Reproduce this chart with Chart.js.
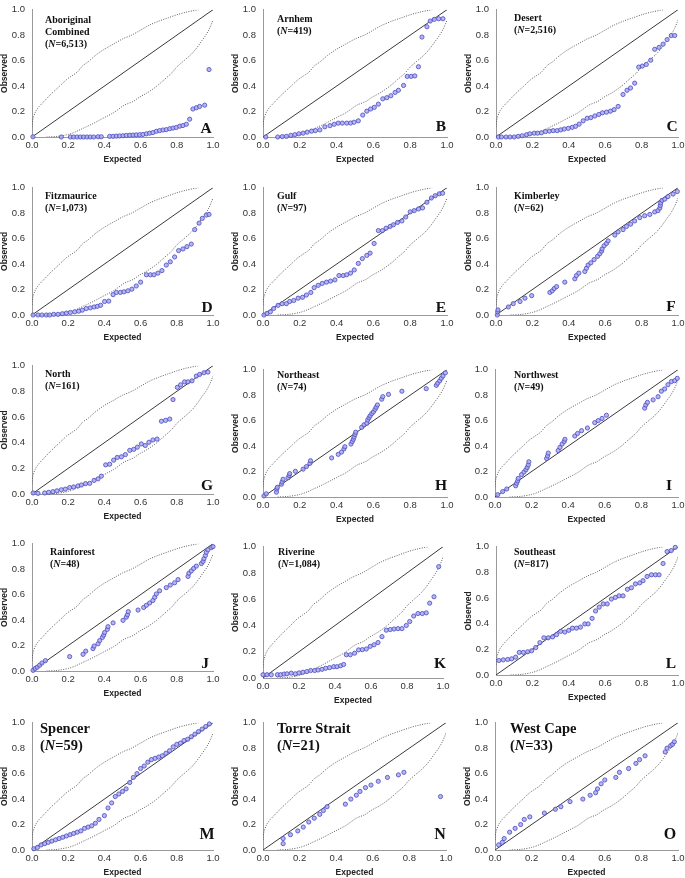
<!DOCTYPE html>
<html><head><meta charset="utf-8">
<script src="https://cdn.jsdelivr.net/npm/chart.js@4/dist/chart.umd.min.js"></script>
<style>
html,body{margin:0;padding:0;background:#fff;width:685px;height:878px;overflow:hidden;position:relative}
canvas{position:absolute}
</style></head><body>
<script>
// ---------- labels ----------
const letters = ["A","B","C","D","E","F","G","H","I","J","K","L","M","N","O"];
const regionNames = [["Aboriginal","Combined"],["Arnhem"],["Desert"],["Fitzmaurice"],["Gulf"],["Kimberley"],["North"],["Northeast"],["Northwest"],["Rainforest"],["Riverine"],["Southeast"],["Spencer"],["Torre Strait"],["West Cape"]];
const sampleSizes = ["6,513","419","2,516","1,073","97","62","161","74","49","48","1,084","817","59","21","33"];
const tickValues = [0,0.2,0.4,0.6,0.8,1.0];

// ---------- confidence envelope (upper; lower is its mirror) ----------
const envExpected = [0,0.005,0.02,0.04,0.06,0.08,0.10,0.13,0.16,0.19,0.22,0.25,0.28,0.31,0.35,0.40,0.45,0.50,0.55,0.60,0.65,0.70,0.75,0.80,0.85,0.90,0.92];
const envObserved = [0.08,0.14,0.20,0.24,0.27,0.30,0.33,0.37,0.41,0.45,0.48,0.51,0.56,0.59,0.64,0.69,0.73,0.77,0.80,0.84,0.88,0.91,0.935,0.96,0.98,0.995,1.0];

// ---------- observed vs expected points ----------
const ptsA = [[0.005,0.002],[0.162,0],[0.212,0],[0.230,0],[0.249,0],[0.267,0],[0.285,0],[0.304,0],[0.322,0],[0.341,0],[0.365,0.002],[0.383,0.002],[0.429,0.005],[0.448,0.005],[0.466,0.007],[0.484,0.008],[0.503,0.01],[0.521,0.012],[0.540,0.014],[0.558,0.015],[0.576,0.017],[0.595,0.018],[0.613,0.02],[0.632,0.025],[0.650,0.03],[0.668,0.035],[0.687,0.045],[0.705,0.05],[0.724,0.055],[0.742,0.058],[0.761,0.065],[0.779,0.07],[0.797,0.075],[0.816,0.085],[0.834,0.09],[0.853,0.1],[0.871,0.14],[0.889,0.22],[0.908,0.23],[0.926,0.24],[0.954,0.25],[0.978,0.53]];
const ptsB = [[0.015,0],[0.08,0],[0.105,0.003],[0.127,0.005],[0.151,0.013],[0.173,0.018],[0.195,0.025],[0.218,0.03],[0.24,0.038],[0.264,0.046],[0.285,0.05],[0.309,0.056],[0.336,0.08],[0.364,0.089],[0.387,0.10],[0.409,0.109],[0.431,0.109],[0.455,0.109],[0.476,0.11],[0.495,0.116],[0.518,0.127],[0.542,0.172],[0.564,0.203],[0.585,0.22],[0.605,0.233],[0.627,0.258],[0.651,0.30],[0.673,0.309],[0.695,0.324],[0.718,0.35],[0.736,0.367],[0.764,0.405],[0.784,0.476],[0.805,0.476],[0.825,0.48],[0.845,0.552],[0.864,0.785],[0.891,0.866],[0.909,0.911],[0.931,0.924],[0.955,0.929],[0.978,0.929]];
const ptsC = [[0.013,0],[0.03,0],[0.055,0],[0.077,0],[0.1,0],[0.122,0.005],[0.144,0.01],[0.168,0.018],[0.186,0.025],[0.21,0.03],[0.229,0.03],[0.25,0.033],[0.272,0.043],[0.293,0.046],[0.314,0.05],[0.336,0.05],[0.356,0.056],[0.375,0.063],[0.397,0.068],[0.419,0.076],[0.437,0.084],[0.457,0.101],[0.479,0.127],[0.501,0.147],[0.521,0.152],[0.543,0.165],[0.565,0.177],[0.585,0.19],[0.607,0.195],[0.629,0.203],[0.649,0.215],[0.671,0.24],[0.698,0.334],[0.72,0.367],[0.739,0.385],[0.762,0.423],[0.784,0.549],[0.804,0.557],[0.826,0.57],[0.85,0.603],[0.872,0.689],[0.896,0.704],[0.918,0.729],[0.94,0.765],[0.963,0.797],[0.982,0.797]];
const ptsD = [[0.006,0],[0.033,0],[0.055,0],[0.079,0],[0.098,0],[0.12,0.005],[0.144,0.005],[0.168,0.01],[0.19,0.015],[0.212,0.02],[0.236,0.025],[0.258,0.03],[0.278,0.038],[0.3,0.051],[0.322,0.056],[0.343,0.063],[0.361,0.068],[0.379,0.076],[0.401,0.106],[0.424,0.109],[0.448,0.16],[0.466,0.177],[0.488,0.177],[0.508,0.182],[0.53,0.19],[0.552,0.203],[0.576,0.228],[0.6,0.258],[0.632,0.316],[0.654,0.316],[0.674,0.316],[0.696,0.329],[0.718,0.349],[0.742,0.392],[0.764,0.418],[0.788,0.456],[0.81,0.506],[0.834,0.519],[0.856,0.537],[0.88,0.557],[0.899,0.671],[0.923,0.722],[0.941,0.759],[0.963,0.785],[0.978,0.79]];
const ptsE = [[0.005,0],[0.022,0.013],[0.04,0.025],[0.058,0.051],[0.082,0.076],[0.104,0.089],[0.127,0.089],[0.145,0.106],[0.167,0.114],[0.191,0.132],[0.215,0.139],[0.236,0.157],[0.26,0.177],[0.278,0.215],[0.3,0.233],[0.322,0.248],[0.345,0.258],[0.367,0.266],[0.391,0.276],[0.413,0.31],[0.436,0.31],[0.455,0.316],[0.476,0.329],[0.496,0.354],[0.518,0.405],[0.54,0.443],[0.564,0.468],[0.582,0.486],[0.604,0.562],[0.627,0.663],[0.649,0.663],[0.669,0.682],[0.691,0.696],[0.709,0.709],[0.731,0.727],[0.755,0.739],[0.776,0.77],[0.8,0.81],[0.822,0.82],[0.845,0.833],[0.867,0.841],[0.891,0.886],[0.915,0.919],[0.936,0.937],[0.958,0.952],[0.976,0.957]];
const ptsF = [[0.007,0.0],[0.009,0.025],[0.011,0.04],[0.068,0.063],[0.095,0.089],[0.132,0.106],[0.159,0.132],[0.196,0.152],[0.296,0.177],[0.309,0.19],[0.32,0.208],[0.333,0.223],[0.378,0.258],[0.433,0.284],[0.442,0.31],[0.455,0.329],[0.488,0.342],[0.497,0.367],[0.506,0.392],[0.521,0.41],[0.539,0.435],[0.558,0.461],[0.57,0.481],[0.58,0.501],[0.583,0.519],[0.594,0.544],[0.607,0.562],[0.616,0.582],[0.653,0.628],[0.671,0.653],[0.698,0.671],[0.717,0.696],[0.74,0.714],[0.762,0.739],[0.79,0.765],[0.817,0.78],[0.845,0.79],[0.872,0.81],[0.89,0.82],[0.9,0.84],[0.903,0.86],[0.905,0.88],[0.912,0.9],[0.927,0.91],[0.945,0.93],[0.973,0.95],[0.996,0.97]];
const ptsG = [[0.006,0.008],[0.033,0.005],[0.07,0.008],[0.092,0.013],[0.116,0.018],[0.138,0.025],[0.162,0.033],[0.184,0.038],[0.208,0.05],[0.23,0.055],[0.254,0.063],[0.273,0.07],[0.296,0.081],[0.319,0.083],[0.343,0.106],[0.365,0.118],[0.383,0.139],[0.407,0.227],[0.429,0.232],[0.451,0.264],[0.471,0.285],[0.494,0.29],[0.516,0.307],[0.54,0.34],[0.562,0.348],[0.582,0.365],[0.604,0.39],[0.626,0.378],[0.646,0.403],[0.668,0.421],[0.691,0.428],[0.715,0.567],[0.738,0.574],[0.761,0.584],[0.779,0.736],[0.803,0.831],[0.821,0.851],[0.843,0.874],[0.862,0.874],[0.884,0.882],[0.908,0.919],[0.926,0.932],[0.95,0.945],[0.972,0.95]];
const ptsH = [[0.005,0.008],[0.018,0.025],[0.073,0.038],[0.075,0.063],[0.078,0.076],[0.1,0.1],[0.104,0.118],[0.109,0.139],[0.136,0.151],[0.142,0.169],[0.145,0.184],[0.176,0.202],[0.218,0.219],[0.236,0.239],[0.255,0.264],[0.258,0.285],[0.373,0.307],[0.409,0.335],[0.427,0.353],[0.44,0.378],[0.445,0.395],[0.478,0.416],[0.485,0.436],[0.491,0.453],[0.495,0.471],[0.5,0.491],[0.504,0.509],[0.536,0.547],[0.549,0.567],[0.564,0.579],[0.569,0.605],[0.576,0.622],[0.582,0.637],[0.591,0.655],[0.6,0.668],[0.609,0.688],[0.615,0.705],[0.622,0.723],[0.645,0.768],[0.651,0.788],[0.682,0.806],[0.755,0.831],[0.887,0.851],[0.942,0.877],[0.949,0.894],[0.96,0.912],[0.969,0.932],[0.978,0.95],[0.991,0.975]];
const ptsI = [[0.015,0.018],[0.042,0.043],[0.064,0.063],[0.113,0.088],[0.118,0.108],[0.124,0.126],[0.127,0.146],[0.145,0.176],[0.158,0.196],[0.169,0.214],[0.176,0.232],[0.182,0.252],[0.185,0.277],[0.282,0.302],[0.287,0.322],[0.291,0.345],[0.345,0.365],[0.355,0.39],[0.367,0.416],[0.378,0.436],[0.382,0.453],[0.436,0.479],[0.451,0.499],[0.473,0.521],[0.505,0.542],[0.545,0.584],[0.564,0.6],[0.585,0.617],[0.609,0.642],[0.818,0.698],[0.824,0.723],[0.833,0.743],[0.864,0.763],[0.891,0.788],[0.909,0.831],[0.927,0.849],[0.945,0.882],[0.964,0.907],[0.982,0.914],[0.996,0.932]];
const ptsJ = [[0.006,0.005],[0.018,0.02],[0.029,0.03],[0.042,0.045],[0.055,0.063],[0.074,0.081],[0.208,0.113],[0.282,0.131],[0.297,0.156],[0.337,0.176],[0.343,0.196],[0.365,0.214],[0.374,0.239],[0.389,0.264],[0.396,0.282],[0.401,0.302],[0.416,0.327],[0.42,0.348],[0.448,0.378],[0.503,0.398],[0.521,0.423],[0.527,0.441],[0.532,0.466],[0.586,0.479],[0.617,0.499],[0.632,0.516],[0.65,0.534],[0.668,0.554],[0.678,0.579],[0.687,0.605],[0.705,0.63],[0.742,0.655],[0.764,0.675],[0.788,0.693],[0.807,0.718],[0.862,0.743],[0.867,0.768],[0.88,0.786],[0.893,0.806],[0.908,0.824],[0.936,0.844],[0.945,0.861],[0.95,0.882],[0.958,0.907],[0.963,0.932],[0.972,0.952],[0.991,0.97],[1.0,0.977]];
const ptsK = [[0.0,0.025],[0.022,0.025],[0.046,0.025],[0.08,0.025],[0.098,0.025],[0.117,0.03],[0.133,0.032],[0.157,0.037],[0.18,0.032],[0.2,0.039],[0.222,0.044],[0.244,0.049],[0.265,0.057],[0.287,0.057],[0.306,0.061],[0.328,0.066],[0.348,0.074],[0.37,0.079],[0.393,0.086],[0.411,0.086],[0.431,0.093],[0.448,0.103],[0.463,0.177],[0.485,0.177],[0.509,0.189],[0.531,0.214],[0.552,0.216],[0.574,0.221],[0.596,0.241],[0.617,0.253],[0.639,0.27],[0.661,0.315],[0.685,0.364],[0.707,0.369],[0.728,0.373],[0.75,0.376],[0.772,0.376],[0.796,0.4],[0.815,0.43],[0.837,0.472],[0.861,0.491],[0.885,0.491],[0.907,0.496],[0.926,0.57],[0.95,0.619],[0.976,0.848]];
const ptsL = [[0.016,0.113],[0.04,0.118],[0.064,0.121],[0.086,0.126],[0.108,0.139],[0.128,0.176],[0.15,0.176],[0.174,0.181],[0.196,0.189],[0.218,0.214],[0.241,0.252],[0.263,0.29],[0.287,0.29],[0.311,0.297],[0.333,0.315],[0.355,0.34],[0.378,0.335],[0.4,0.348],[0.42,0.365],[0.442,0.365],[0.464,0.373],[0.488,0.398],[0.506,0.398],[0.528,0.441],[0.547,0.499],[0.567,0.529],[0.589,0.554],[0.611,0.554],[0.634,0.592],[0.656,0.605],[0.676,0.617],[0.698,0.617],[0.722,0.668],[0.744,0.68],[0.766,0.71],[0.79,0.718],[0.808,0.735],[0.83,0.768],[0.854,0.781],[0.876,0.781],[0.896,0.781],[0.918,0.869],[0.94,0.962],[0.963,0.97],[0.985,0.995]];
const ptsM = [[0.01,0.01],[0.03,0.02],[0.05,0.04],[0.07,0.05],[0.09,0.06],[0.11,0.07],[0.13,0.08],[0.15,0.09],[0.17,0.10],[0.19,0.11],[0.21,0.12],[0.23,0.13],[0.25,0.14],[0.27,0.15],[0.29,0.17],[0.31,0.18],[0.33,0.19],[0.35,0.21],[0.37,0.24],[0.40,0.27],[0.42,0.33],[0.44,0.37],[0.46,0.42],[0.48,0.44],[0.50,0.46],[0.52,0.48],[0.54,0.53],[0.56,0.57],[0.58,0.60],[0.60,0.64],[0.62,0.66],[0.64,0.69],[0.66,0.71],[0.68,0.72],[0.70,0.73],[0.72,0.74],[0.74,0.76],[0.76,0.78],[0.78,0.81],[0.80,0.83],[0.82,0.84],[0.84,0.86],[0.86,0.87],[0.88,0.89],[0.90,0.91],[0.92,0.93],[0.94,0.95],[0.96,0.97],[0.98,0.99]];
const ptsN = [[0.11,0.05],[0.11,0.09],[0.15,0.12],[0.19,0.15],[0.22,0.18],[0.25,0.22],[0.28,0.25],[0.31,0.28],[0.33,0.31],[0.35,0.34],[0.45,0.36],[0.48,0.40],[0.51,0.43],[0.53,0.46],[0.56,0.49],[0.59,0.51],[0.63,0.54],[0.68,0.57],[0.74,0.59],[0.77,0.61],[0.97,0.42]];
const ptsO = [[0.02,0.04],[0.04,0.06],[0.05,0.09],[0.08,0.14],[0.11,0.17],[0.14,0.20],[0.16,0.24],[0.19,0.26],[0.27,0.29],[0.33,0.32],[0.36,0.34],[0.41,0.38],[0.48,0.40],[0.52,0.43],[0.55,0.45],[0.56,0.48],[0.58,0.52],[0.60,0.55],[0.66,0.57],[0.68,0.61],[0.73,0.64],[0.77,0.68],[0.79,0.71],[0.82,0.74],[0.93,0.77],[0.94,0.80],[0.96,0.82],[0.97,0.83],[0.98,0.85]];
const allPoints = [ptsA,ptsB,ptsC,ptsD,ptsE,ptsF,ptsG,ptsH,ptsI,ptsJ,ptsK,ptsL,ptsM,ptsN,ptsO];

// ---------- layout (pixels, not data) ----------
const plotBoxes = [[32,5,181,132],[263,5,184,132],[496,5,182,132],[32,183,181,132],[263,183,184,132],[496,183,182,132],[32,361,181,133],[263,365,184,132],[495,365,183,132],[32,539,181,132],[263,542,180,136],[496,542,182,133],[32,718,181,132],[263,718,183,132],[495,718,183,132]];
const titleOffsets = [[13,11],[14,10],[18,9],[13,8.5],[14,8.5],[18,8.5],[13,9],[14,6],[19,6],[18,9],[15,6],[18,6],[8,7],[14,7],[15,7]];
const letterOffsets = [[-7,-8],[-6,-10],[-6,-10],[-6,-7.5],[-6,-7.5],[-7,-8],[-6,-8.5],[-6,-11.5],[-9,-11.5],[-8,-7.5],[-3,-14],[-7,-11.5],[-6,-15],[-6,-15],[-8,-15]];

const SERIF = '"Liberation Serif","Times New Roman",serif';
const SANS = '"Liberation Sans",Arial,sans-serif';

const textPlugin = {
  id: 'panelText',
  afterDraw(chart, args, o) {
    const {ctx, chartArea: a} = chart;
    ctx.save();
    ctx.fillStyle = '#111';
    ctx.textBaseline = 'middle';
    ctx.textAlign = 'left';
    const fs = o.big ? 14.5 : 10;
    const lh = o.big ? 17 : 12;
    let x = a.left + o.dx, y = a.top + o.dy;
    ctx.font = `bold ${fs}px ${SERIF}`;
    o.lines.forEach(l => { ctx.fillText(l, x, y); y += lh; });
    let cx = x;
    ctx.font = `bold ${fs}px ${SERIF}`;
    ctx.fillText('(', cx, y); cx += ctx.measureText('(').width;
    ctx.font = `italic bold ${fs}px ${SERIF}`;
    ctx.fillText('N', cx, y); cx += ctx.measureText('N').width;
    ctx.font = `bold ${fs}px ${SERIF}`;
    ctx.fillText('=' + o.n + ')', cx, y);
    ctx.font = `bold ${o.big ? 16 : 15.5}px ${SERIF}`;
    ctx.textAlign = 'center';
    ctx.fillText(o.letter, a.right + o.lx, a.bottom + o.ly);
    ctx.restore();
  }
};

const PADL = 32, PADT = 8, PADR = 10, XH = 28;

function axis(title, isY) {
  return {
    type: 'linear', min: 0, max: 1,
    afterBuildTicks: s => { s.ticks = tickValues.map(v => ({value: v})); },
    afterFit: s => { if (isY) s.width = PADL; else s.height = XH; },
    grid: {display: false, drawTicks: false},
    border: {display: true, color: '#9a9a9a', width: 1},
    ticks: {
      padding: isY ? 7 : 3,
      color: '#333',
      font: {family: SANS, size: 9.5},
      callback: v => Number(v).toFixed(1),
      maxRotation: 0, autoSkip: false
    },
    title: {display: true, text: title, color: '#222', padding: 0,
            font: {family: SANS, size: 8.5, weight: 'bold'}}
  };
}

allPoints.forEach((pts, i) => {
  const b = plotBoxes[i];
  const w = PADL + b[2] + PADR, h = PADT + b[3] + XH;
  const cv = document.createElement('canvas');
  cv.width = w; cv.height = h;
  cv.style.left = (b[0] - PADL) + 'px';
  cv.style.top = (b[1] - PADT) + 'px';
  cv.style.width = w + 'px'; cv.style.height = h + 'px';
  document.body.appendChild(cv);
  const upper = envExpected.map((e, k) => ({x: e, y: envObserved[k]}));
  const lower = envExpected.map((e, k) => ({x: envObserved[k], y: e}));
  new Chart(cv, {
    type: 'scatter',
    data: {
      datasets: [
        {data: upper, showLine: true, borderColor: '#5f5f5f', borderWidth: 1, borderDash: [1, 1.4], pointRadius: 0, tension: 0.3, order: 3},
        {data: lower, showLine: true, borderColor: '#5f5f5f', borderWidth: 1, borderDash: [1, 1.4], pointRadius: 0, tension: 0.3, order: 3},
        {data: [{x: 0, y: 0}, {x: 1, y: 1}], showLine: true, borderColor: '#3a3a3a', borderWidth: 1, pointRadius: 0, order: 2},
        {data: pts.map(p => ({x: p[0], y: p[1]})), showLine: false, pointRadius: 2.1, pointBorderWidth: 0.9,
         pointBorderColor: 'rgba(80,80,200,0.95)', pointBackgroundColor: 'rgba(170,170,236,0.85)', clip: 5, order: 1}
      ]
    },
    options: {
      responsive: false, animation: false, devicePixelRatio: 1,
      layout: {padding: {left: 0, top: PADT, right: PADR, bottom: 0}},
      plugins: {
        legend: {display: false}, tooltip: {enabled: false},
        panelText: {lines: regionNames[i], n: sampleSizes[i], letter: letters[i], big: i >= 12,
                    dx: titleOffsets[i][0], dy: titleOffsets[i][1], lx: letterOffsets[i][0], ly: letterOffsets[i][1]}
      },
      scales: {x: axis('Expected', false), y: axis('Observed', true)}
    },
    plugins: [textPlugin]
  });
});
</script>
</body></html>
